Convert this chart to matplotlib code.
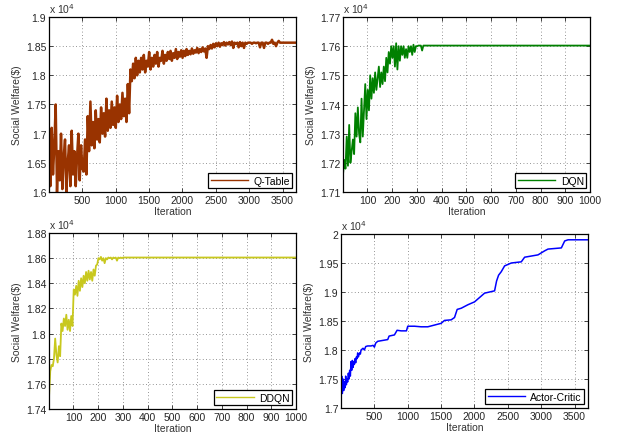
import numpy as np
import matplotlib
matplotlib.use('Agg')
import matplotlib.pyplot as plt
from matplotlib.ticker import FuncFormatter

plt.rcParams['font.family'] = ['Liberation Sans', 'DejaVu Sans']
plt.rcParams['font.size'] = 7

# ---- data (Social Welfare in $) ----
# Q-Table, one value every 20 iterations starting at 1
qtable_vals = [
    16900, 16100, 17100, 16300, 16800, 17500, 16000, 16700, 16200, 17000,
    16050, 16600, 16900, 16000, 16500, 16800, 16100, 17050, 16300, 16700,
    16100, 16600, 17000, 16200, 16800, 16400, 16350, 16900, 16300, 17300,
    16700, 17550, 16800, 17200, 16750, 17400, 16900, 17250, 16850, 17450,
    17000, 17350, 16950, 17600, 17050, 17400, 17100, 17550, 17150, 17450,
    17100, 17650, 17200, 17500, 17250, 17700, 17300, 17600, 17200, 17850,
    17350, 18100, 17900, 18200, 17950, 18300, 18000, 18250, 18050, 18300,
    18100, 18350, 18050, 18250, 18150, 18400, 18100, 18300, 18150, 18350,
    18200, 18400, 18150, 18300, 18250, 18420, 18200, 18350, 18250, 18400,
    18280, 18420, 18250, 18380, 18300, 18450, 18280, 18400, 18320, 18430,
    18300, 18420, 18330, 18450, 18350, 18420, 18360, 18460, 18370, 18430,
    18390, 18470, 18380, 18450, 18400, 18480, 18410, 18460, 18300, 18500,
    18450, 18520, 18460, 18540, 18480, 18550, 18500, 18560, 18490, 18550,
    18520, 18570, 18510, 18560, 18530, 18570, 18520, 18580, 18470, 18560,
    18540, 18560, 18480, 18570, 18500, 18560, 18470, 18560, 18540, 18560,
    18560, 18560, 18540, 18560, 18560, 18550, 18560, 18560, 18480, 18560,
    18560, 18470, 18560, 18560, 18540, 18560, 18560, 18610, 18540, 18560,
    18500, 18560, 18590, 18560, 18560, 18560, 18560, 18560, 18560, 18560,
    18560, 18560, 18560, 18560, 18560, 18560,
]

# DQN, every 5 iterations up to 326, then flat to 1000
dqn_vals = [
    17160, 17210, 17180, 17290, 17190, 17330, 17200, 17240, 17280, 17230,
    17370, 17290, 17390, 17300, 17270, 17420, 17290, 17380, 17470, 17350,
    17450, 17380, 17500, 17420, 17490, 17440, 17510, 17450, 17490, 17530,
    17460, 17510, 17470, 17530, 17480, 17560, 17510, 17580, 17540, 17600,
    17560, 17600, 17530, 17610, 17520, 17600, 17550, 17600, 17570, 17600,
    17560, 17590, 17560, 17600, 17580, 17600, 17570, 17605, 17580, 17600,
    17600, 17602, 17602, 17602, 17585, 17602,
]
dqn_final = 17602

# DDQN, every 5 iterations up to 301, then flat to 1000
ddqn_vals = [
    17490, 17700, 17750, 17740, 17800, 17960, 17830, 17770, 17900, 17820,
    18080, 18020, 18120, 18060, 18150, 18030, 18110, 18020, 18140, 18060,
    18350, 18310, 18380, 18300, 18420, 18340, 18440, 18370, 18460, 18400,
    18490, 18420, 18500, 18430, 18490, 18420, 18510, 18460, 18540, 18550,
    18600, 18590, 18610, 18580, 18600, 18560, 18600, 18590, 18605, 18600,
    18605, 18590, 18605, 18600, 18605, 18580, 18605, 18600, 18605, 18600,
    18605,
]
ddqn_final = 18605

# Actor-Critic (iteration, value)
ac_iter = [1, 11, 21, 31, 41, 51, 61, 71, 81, 91, 101, 111, 121, 131, 141,
           151, 161, 171, 181, 191, 201, 211, 221, 231, 241, 251, 261, 271,
           281, 291, 301, 331, 351, 371, 401, 451, 481, 501, 521, 551, 601,
           651, 701, 721, 801, 841, 901, 981, 1001, 1101, 1201, 1301, 1401,
           1501, 1551, 1651, 1701, 1741, 1801, 1901, 2001, 2101, 2151, 2301,
           2331, 2361, 2401, 2451, 2551, 2701, 2751, 2951, 3051, 3101, 3301,
           3351, 3401, 3700]
ac_vals = [17100, 17550, 17250, 17500, 17300, 17450, 17350, 17550, 17400,
           17500, 17450, 17600, 17500, 17650, 17550, 17800, 17650, 17820,
           17700, 17800, 17750, 17850, 17780, 17880, 17850, 17950, 17880,
           17920, 17950, 17930, 18000, 18030, 18000, 18060, 18070, 18070,
           18080, 18050, 18120, 18150, 18160, 18170, 18180, 18240, 18260,
           18340, 18330, 18330, 18410, 18410, 18400, 18400, 18430, 18460,
           18510, 18520, 18560, 18700, 18720, 18780, 18830, 18930, 18980,
           19020, 19190, 19290, 19350, 19450, 19500, 19520, 19600, 19640,
           19710, 19740, 19760, 19880, 19900, 19900]

qtable_iter = 1 + 20 * np.arange(len(qtable_vals))
dqn_iter = np.append(1 + 5 * np.arange(len(dqn_vals)), 1000)
dqn_y = np.append(dqn_vals, dqn_final)
ddqn_iter = np.append(1 + 5 * np.arange(len(ddqn_vals)), 1000)
ddqn_y = np.append(ddqn_vals, ddqn_final)

fig = plt.figure(figsize=(6.2, 4.39), dpi=100)
W, H = 620.0, 439.0


def make_ax(l, t, r, b):
    return fig.add_axes([l / W, 1 - b / H, (r - l) / W, (b - t) / H])


def style(ax, xlim, xticks, ylim, yticks, label, color, x, y, lw):
    ax.plot(x, y, color=color, lw=lw, label=label)
    ax.set_xlim(xlim)
    ax.set_ylim(ylim)
    ax.set_xticks(xticks)
    ax.set_yticks(yticks)
    ax.yaxis.set_major_formatter(FuncFormatter(lambda v, p: '%g' % round(v / 1e4, 4)))
    ax.grid(True, linestyle=(0, (1, 3)), color='0.45', lw=0.6)
    ax.tick_params(direction='in', length=3, width=0.6, labelsize=7.5, pad=2,
                   top=True, right=True, colors='0.15')
    for s in ax.spines.values():
        s.set_linewidth(0.9)
    ax.set_xlabel('Iteration', fontsize=7.5, labelpad=1, color='0.2')
    ax.set_ylabel('Social Welfare($)', fontsize=7.5, labelpad=3, color='0.2')
    ax.text(0.0, 1.012, r'x 10$^{4}$', transform=ax.transAxes, fontsize=7.5,
            ha='left', va='bottom', color='0.2')
    leg = ax.legend(loc='lower right', fontsize=7.5, handlelength=3.6,
                    borderaxespad=0.35, fancybox=False, framealpha=1,
                    borderpad=0.25, handletextpad=0.5)
    leg.get_frame().set_edgecolor('black')
    leg.get_frame().set_linewidth(0.9)
    for line in leg.get_lines():
        line.set_linewidth(1.0)


ax1 = make_ax(49, 18, 296, 193)
style(ax1, (1, 3700), [500, 1000, 1500, 2000, 2500, 3000, 3500], (16000, 19000),
      np.arange(16000, 19001, 500), 'Q-Table', '#993300', qtable_iter, qtable_vals, 1.8)

ax2 = make_ax(343, 18, 590, 193)
style(ax2, (1, 1000), np.arange(100, 1001, 100), (17100, 17700),
      np.arange(17100, 17701, 100), 'DQN', '#008000', dqn_iter, dqn_y, 1.3)

ax3 = make_ax(49, 234, 296, 410)
style(ax3, (1, 1000), np.arange(100, 1001, 100), (17400, 18800),
      np.arange(17400, 18801, 200), 'DDQN', '#c8c81e', ddqn_iter, ddqn_y, 1.3)

ax4 = make_ax(341, 235, 588, 409)
style(ax4, (1, 3700), [500, 1000, 1500, 2000, 2500, 3000, 3500], (17000, 20000),
      np.arange(17000, 20001, 500), 'Actor-Critic', '#0000ff', ac_iter, ac_vals, 1.1)

fig.savefig('out.png', dpi=100)
